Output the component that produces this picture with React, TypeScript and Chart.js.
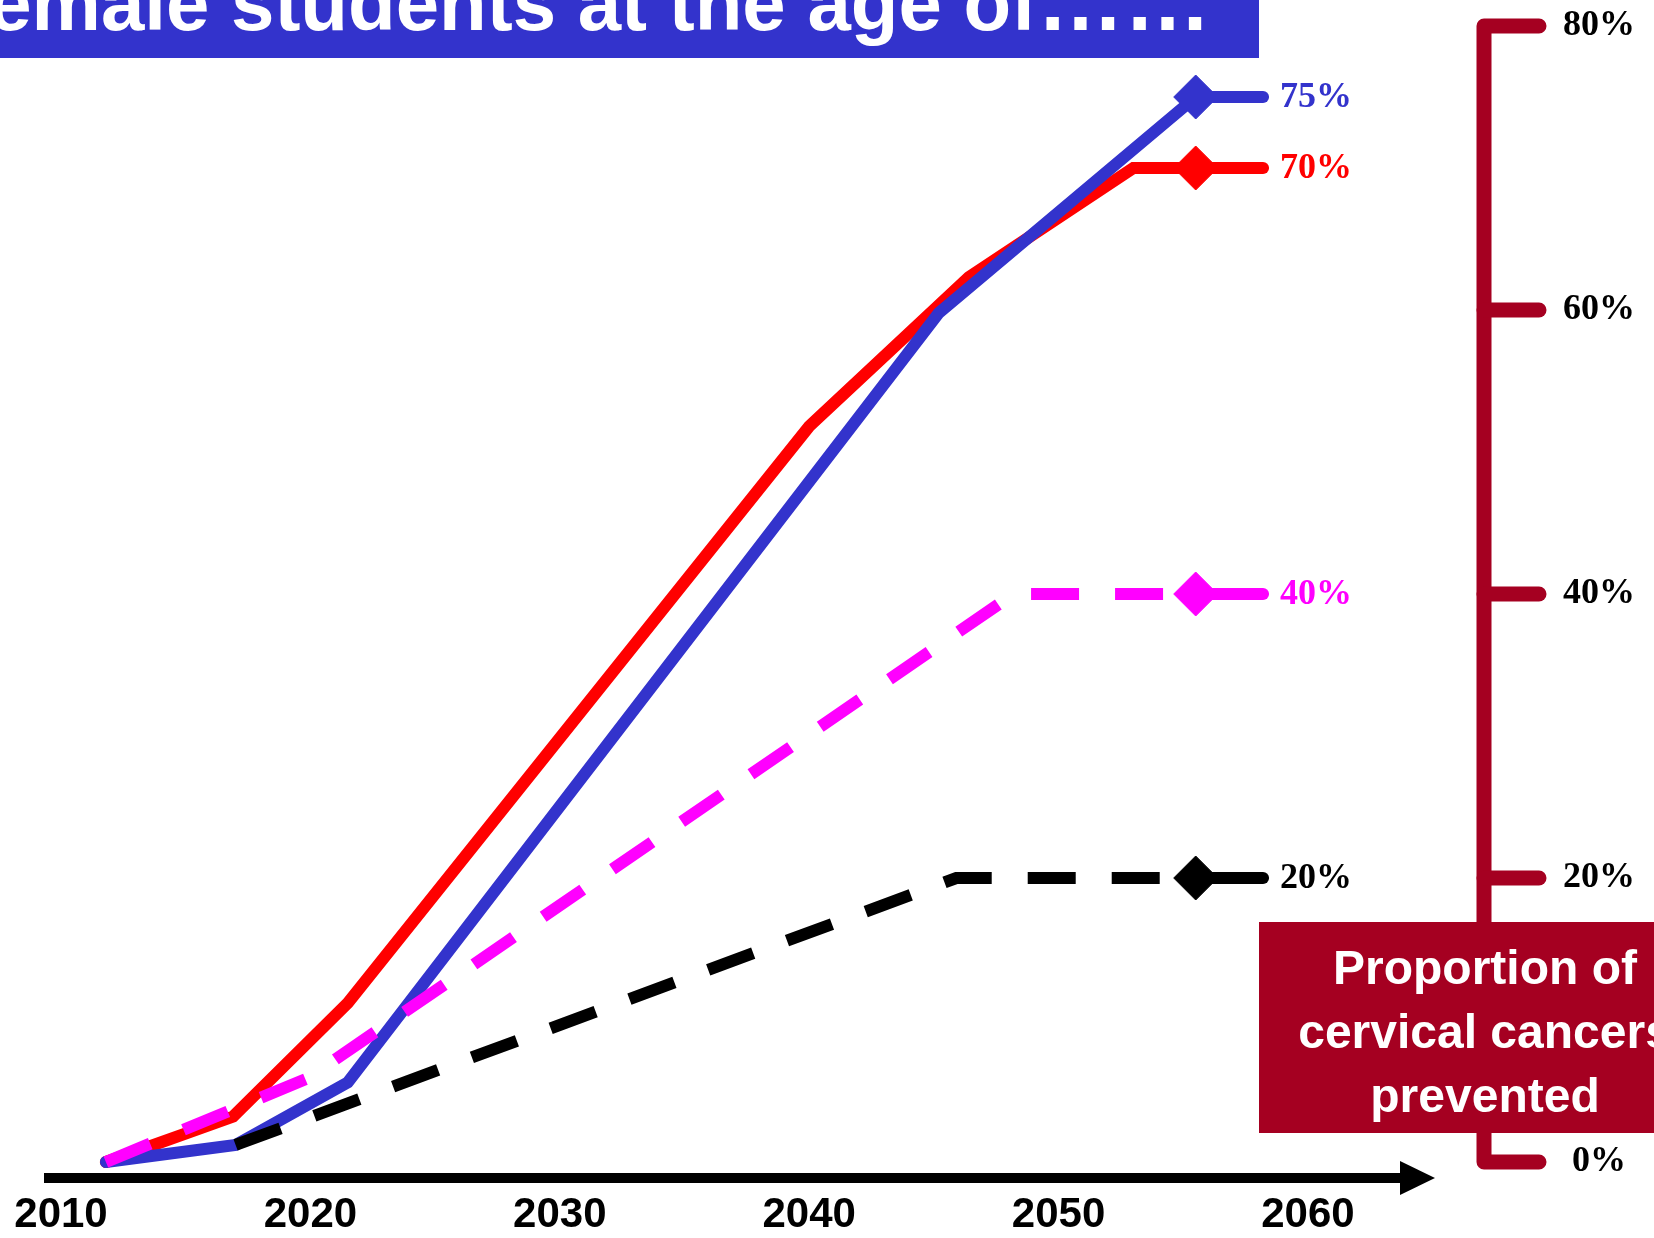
import React, { useEffect, useRef } from "react";
import { Chart, registerables } from "chart.js";

Chart.register(...registerables);

// ---- data -------------------------------------------------------------
const YEAR_TICKS = [2010, 2020, 2030, 2040, 2050, 2060];
const SHARE_TICKS = [0, 20, 40, 60, 80];

// each curve finishes with a diamond and a short solid stub carrying its label
const KEY_YEARS = [2055.5, 2058.2];

const RED_YEARS = [2011.8, 2016.9, 2021.5, 2040.0, 2046.4, 2053.0, 2055.5];
const RED_VALUES = [0, 3.2, 11.2, 51.8, 62.3, 70, 70];

const BLUE_YEARS = [2011.8, 2017.0, 2021.5, 2045.2, 2055.5];
const BLUE_VALUES = [0, 1.2, 5.6, 59.8, 75];

const MAGENTA_YEARS = [2011.8, 2019.9, 2048.2, 2055.5];
const MAGENTA_VALUES = [0, 5.9, 40, 40];

const BLACK_YEARS = [2017.0, 2045.9, 2055.5];
const BLACK_VALUES = [1.2, 20, 20];

const TITLE = "Female students at the age of";
const TITLE_TAIL = "……";
const BOX_LINES = ["Proportion of", "cervical cancers", "prevented"];

// ---- styling ----------------------------------------------------------
const MAROON = "#A50021";
const TITLE_BLUE = "#3333CC";
const X_MIN = 2010;
const X_MAX = 2067.06;

type Series = {
  years: number[];
  values: number[];
  color: string;
  dashed: boolean;
};

const SERIES: Series[] = [
  { years: BLACK_YEARS, values: BLACK_VALUES, color: "#000000", dashed: true },
  { years: MAGENTA_YEARS, values: MAGENTA_VALUES, color: "#FF00FF", dashed: true },
  { years: BLUE_YEARS, values: BLUE_VALUES, color: TITLE_BLUE, dashed: false },
  { years: RED_YEARS, values: RED_VALUES, color: "#FF0000", dashed: false },
];

const LINE_WIDTH = 12;

function buildDatasets() {
  const sets: any[] = [];
  SERIES.forEach((s) => {
    const last = s.values[s.values.length - 1];
    // key stub: diamond + solid segment (drawn above the curve)
    sets.push({
      data: KEY_YEARS.map((x) => ({ x, y: last })),
      borderColor: s.color,
      backgroundColor: s.color,
      borderWidth: LINE_WIDTH,
      borderCapStyle: "round",
      pointStyle: "rectRot",
      pointRadius: [22, 0],
      pointBorderWidth: 1,
      pointBorderColor: s.color,
      pointBackgroundColor: s.color,
      tension: 0,
      fill: false,
      clip: false,
      isKey: true,
      keyValue: last,
    });
    sets.push({
      data: s.years.map((x, i) => ({ x, y: s.values[i] })),
      borderColor: s.color,
      backgroundColor: s.color,
      borderWidth: LINE_WIDTH,
      borderDash: s.dashed ? [48, 36] : [],
      borderCapStyle: s.dashed ? "butt" : "round",
      borderJoinStyle: "miter",
      pointRadius: 0,
      tension: 0,
      fill: false,
      clip: false,
    });
  });
  return sets;
}

const decorations = {
  id: "decorations",
  beforeDatasetsDraw(chart: any) {
    const { ctx, chartArea, scales } = chart;
    const y = scales.y;
    const axisX = y.left;
    const tickEnd = axisX + 55;
    ctx.save();
    // right-hand scale bar with rounded ticks
    ctx.strokeStyle = MAROON;
    ctx.lineWidth = 15;
    ctx.lineCap = "round";
    ctx.lineJoin = "round";
    const top = y.getPixelForValue(SHARE_TICKS[SHARE_TICKS.length - 1]);
    const bottom = y.getPixelForValue(SHARE_TICKS[0]);
    ctx.beginPath();
    ctx.moveTo(tickEnd, top);
    ctx.lineTo(axisX, top);
    ctx.lineTo(axisX, bottom);
    ctx.lineTo(tickEnd, bottom);
    ctx.stroke();
    SHARE_TICKS.slice(1, -1).forEach((v) => {
      const py = y.getPixelForValue(v);
      ctx.beginPath();
      ctx.moveTo(axisX, py);
      ctx.lineTo(tickEnd, py);
      ctx.stroke();
    });

    // time arrow along the bottom
    const ay = chartArea.bottom + 16;
    const x0 = chartArea.left - 17;
    const headBase = 1400;
    const tip = 1435;
    ctx.fillStyle = "#000";
    ctx.fillRect(x0, ay - 5, headBase - x0 + 1, 10);
    ctx.beginPath();
    ctx.moveTo(headBase, ay - 17);
    ctx.lineTo(tip, ay);
    ctx.lineTo(headBase, ay + 17);
    ctx.closePath();
    ctx.fill();
    ctx.restore();
  },
  afterDatasetsDraw(chart: any) {
    const { ctx } = chart;
    ctx.save();
    ctx.font = 'bold 36px "Liberation Serif"';
    ctx.textAlign = "left";
    ctx.textBaseline = "middle";
    chart.data.datasets.forEach((ds: any, i: number) => {
      if (!ds.isKey) return;
      const meta = chart.getDatasetMeta(i);
      const end = meta.data[meta.data.length - 1];
      ctx.fillStyle = ds.borderColor;
      ctx.fillText(`${ds.keyValue}%`, end.x + 17, end.y + 1);
    });
    ctx.restore();
  },
  afterDraw(chart: any) {
    const { ctx } = chart;
    ctx.save();
    // title band
    ctx.fillStyle = TITLE_BLUE;
    ctx.fillRect(0, 0, 1259, 58);
    ctx.fillStyle = "#fff";
    ctx.font = 'bold 78px "Liberation Sans"';
    ctx.textAlign = "left";
    ctx.textBaseline = "alphabetic";
    const lead = ctx.measureText("Female ").width;
    const startX = 231 - lead;
    ctx.fillText(TITLE, startX, 29.5);
    const mainW = ctx.measureText(TITLE).width;
    ctx.font = 'bold 87px "Liberation Sans"';
    ctx.fillText(TITLE_TAIL, startX + mainW, 29.5);

    // axis caption box
    ctx.fillStyle = MAROON;
    ctx.fillRect(1259, 922, 1654 - 1259, 211);
    ctx.fillStyle = "#fff";
    ctx.font = 'bold 48px "Liberation Sans"';
    ctx.textAlign = "center";
    BOX_LINES.forEach((line, i) => {
      ctx.fillText(line, 1485, 984 + i * 64);
    });
    ctx.restore();
  },
};

export default function App() {
  const canvasRef = useRef<HTMLCanvasElement | null>(null);

  useEffect(() => {
    const canvas = canvasRef.current;
    if (!canvas) return;
    const chart = new Chart(canvas, {
      type: "line",
      data: { datasets: buildDatasets() },
      options: {
        animation: false,
        responsive: false,
        devicePixelRatio: 1,
        events: [],
        layout: { padding: { left: 61, top: 26, right: 0, bottom: 0 } },
        plugins: {
          legend: { display: false },
          tooltip: { enabled: false },
        },
        scales: {
          x: {
            type: "linear",
            min: X_MIN,
            max: X_MAX,
            position: "bottom",
            grid: { display: false, drawTicks: true, tickLength: 28 },
            border: { display: false },
            afterBuildTicks: (axis: any) => {
              axis.ticks = YEAR_TICKS.map((value) => ({ value }));
            },
            afterFit: (axis: any) => {
              axis.height = 76;
            },
            ticks: {
              padding: 0,
              autoSkip: false,
              maxRotation: 0,
              color: "#000",
              font: { family: '"Liberation Sans"', weight: "bold", size: 42 },
              callback: (v: any) => String(v),
            },
          },
          y: {
            type: "linear",
            position: "right",
            min: 0,
            max: 80,
            grid: {
              display: false,
              drawOnChartArea: false,
              drawTicks: true,
              tickLength: 79,
            },
            border: { display: false },
            afterBuildTicks: (axis: any) => {
              axis.ticks = SHARE_TICKS.map((value) => ({ value }));
            },
            afterFit: (axis: any) => {
              axis.width = 170;
            },
            ticks: {
              padding: 0,
              crossAlign: "center",
              color: "#000",
              font: { family: '"Liberation Serif"', weight: "bold", size: 36 },
              callback: (v: any) => `${v}%`,
            },
          },
        },
      } as any,
      plugins: [decorations],
    });
    return () => chart.destroy();
  }, []);

  return (
    <div
      style={{
        position: "fixed",
        left: 0,
        top: 0,
        width: 1654,
        height: 1238,
        background: "#fff",
      }}
    >
      <canvas ref={canvasRef} width={1654} height={1238} />
    </div>
  );
}
